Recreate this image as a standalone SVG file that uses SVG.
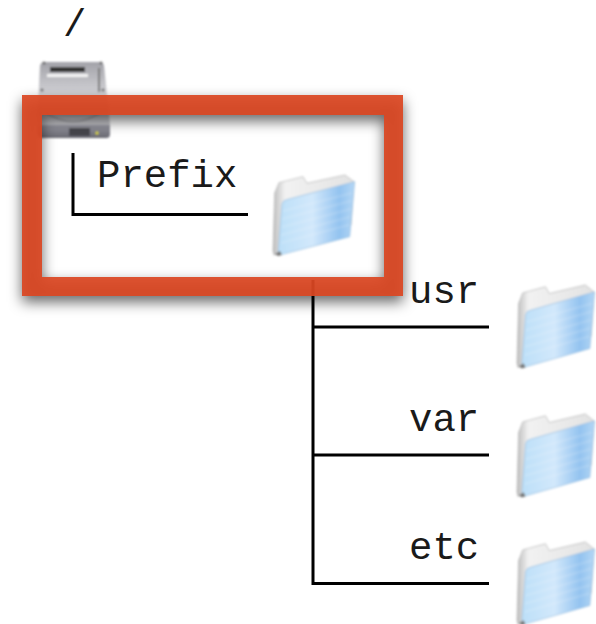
<svg xmlns="http://www.w3.org/2000/svg" width="596" height="624" viewBox="0 0 596 624">
<style>
.t{font-family:"Liberation Mono","Courier New",monospace;font-size:39px;fill:#1a1a1a}
.c{fill:none;stroke:#000;stroke-width:3}
</style>
<defs>
<linearGradient id="blue" x1="0" y1="0" x2="1" y2="0"><stop offset="0" stop-color="#bcdff8"/><stop offset=".45" stop-color="#d2e8fb"/><stop offset=".8" stop-color="#93c3f0"/><stop offset="1" stop-color="#b5d7f5"/></linearGradient>
<linearGradient id="back" x1="0" y1="0" x2="1" y2="0"><stop offset="0" stop-color="#bdbdbd"/><stop offset=".15" stop-color="#f2f2f2"/><stop offset="1" stop-color="#e2e2e2"/></linearGradient>
<linearGradient id="drv" x1="0" y1="0" x2="0" y2="1"><stop offset="0" stop-color="#a2a2a8"/><stop offset=".5" stop-color="#dcdce0"/><stop offset="1" stop-color="#bcbcc2"/></linearGradient>
<linearGradient id="panel" x1="0" y1="0" x2="0" y2="1"><stop offset="0" stop-color="#9a9aa4"/><stop offset="1" stop-color="#66666f"/></linearGradient>
<filter id="soft" x="-10%" y="-10%" width="120%" height="120%"><feGaussianBlur stdDeviation=".9"/></filter>
<filter id="blur" x="-10%" y="-15%" width="120%" height="130%"><feGaussianBlur stdDeviation="7"/></filter>
<g id="folder" filter="url(#soft)">
<path d="M1 80 L0 76 L1.700 18 L6 7.700 L30 1.700 L34 8.300 L72 0 L81 6.700 L78 50 L8 78Z" fill="url(#back)" stroke="#a8a8a8" stroke-width=".6"/>
<path d="M9 29 Q10 25 14 24.500 L81.700 6.700 L76.700 61.700 L9 79.500 L5 79.500Z" fill="url(#blue)" stroke="#8fb8dc" stroke-width=".6"/>
<path d="M10 36L79 18M9 44L78 26M9 52L78 34M8 60L77 42M8 68L76 50" stroke="#fff" stroke-opacity=".14" stroke-width="2" fill="none"/>
<path d="M2 79 L5 81 L9 80 L7 76Z" fill="#777"/>
</g>
</defs>
<g id="root-label"><text class="t" x="63" y="36">/</text></g>
<g id="drive" filter="url(#soft)">
<path d="M44 62 L100 62 Q103 62 104 66 L110 124 L110 134 Q110 138 106 138 L42 138 Q37 138 37 134 L37 124 L40 66 Q41 62 44 62Z" fill="url(#drv)"/>
<path d="M38 125 H110 V134 Q110 138 106 138 H42 Q38 138 38 134Z" fill="url(#panel)"/>
<rect x="50" y="67" width="35" height="5" fill="#333"/>
<rect x="47" y="74" width="41" height="3" fill="#f4f4f4"/>
<rect x="98" y="68" width="2" height="24" fill="#777"/>
<circle cx="44" cy="63" r="1.500" fill="#666"/><circle cx="101" cy="63" r="1.500" fill="#666"/><circle cx="42" cy="90" r="1.500" fill="#666"/><circle cx="103" cy="90" r="1.500" fill="#666"/>
<path d="M46 113 Q73 130 100 113" fill="none" stroke="#8e8e92"/>
<rect x="69" y="128" width="21" height="8" fill="#44444c"/>
<circle cx="97" cy="133" r="1.500" fill="#e6e020"/>
</g>
<g id="connectors">
<path class="c" d="M73 153V214.500H248"/>
<path class="c" d="M313 280V583.500H489M313 327H489M313 455H489"/>
</g>
<g id="prefix"><text class="t" x="97" y="187">Prefix</text><use href="#folder" x="273" y="175"/></g>
<g id="usr"><text class="t" x="409" y="303">usr</text><use href="#folder" transform="translate(517 285) scale(.95 1.03)"/></g>
<g id="var"><text class="t" x="409" y="431">var</text><use href="#folder" transform="translate(517 414) scale(.95 1.03)"/></g>
<g id="etc"><text class="t" x="409" y="559">etc</text><use href="#folder" transform="translate(517 542) scale(.95 1.03)"/></g>
<g id="highlight">
<path d="M22 95H403V296H22ZM42 115V277H384V115Z" fill-rule="evenodd" fill="#000" fill-opacity=".6" transform="translate(0 6)" filter="url(#blur)"/>
<path d="M22 95H403V296H22ZM42 115V277H384V115Z" fill-rule="evenodd" fill="#fff" fill-opacity=".0"/>
<path d="M22 95H403V296H22ZM42 115V277H384V115Z" fill-rule="evenodd" fill="#dc4722" fill-opacity=".93"/>
</g>
</svg>
